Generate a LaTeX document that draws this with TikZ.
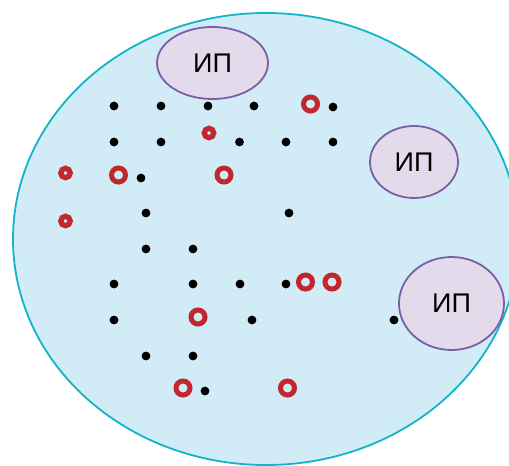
\documentclass[tikz,border=0pt]{standalone}
\usepackage{fontspec}
\setmainfont{Liberation Sans}
\usetikzlibrary{shapes.geometric}
\definecolor{cellfill}{HTML}{D1ECF7}
\definecolor{celldraw}{HTML}{12B4C8}
\definecolor{ipfill}{HTML}{E3DBEC}
\definecolor{ipdraw}{HTML}{7A5FA8}
\definecolor{ringred}{HTML}{C1272D}
\begin{document}
\begin{tikzpicture}[x=1pt,y=-1pt,
  ipnode/.style={ellipse,draw=ipdraw,fill=ipfill,line width=1.8pt,inner sep=0pt,font=\fontsize{27}{30}\selectfont},
  dotnode/.style={circle,fill=black,inner sep=0pt,minimum size=8.8pt},
  bigring/.style={circle,draw=ringred,line width=5pt,inner sep=0pt,minimum size=14pt},
  smallring/.style={circle,draw=ringred,line width=5.3pt,inner sep=0pt,minimum size=9.4pt}]
\useasboundingbox (0,0) rectangle (509,466);
\clip (0,0) rectangle (509,466);
\node[ellipse,draw=celldraw,fill=cellfill,line width=1.8pt,minimum width=506pt,minimum height=452pt,inner sep=0pt] (cell) at (266,239) {};
\node[ipnode,minimum width=111pt,minimum height=72pt] (ip1) at (212.5,63) {ИП};
\node[ipnode,minimum width=88pt,minimum height=72pt] (ip2) at (414,162) {ИП};
\node[ipnode,minimum width=105pt,minimum height=93pt] (ip3) at (451.5,303.5) {ИП};
% row 1
\node[dotnode] (d11) at (114,106) {};
\node[dotnode] (d12) at (161,106) {};
\node[dotnode] (d13) at (208,106) {};
\node[dotnode] (d14) at (254,106) {};
\node[bigring] (r11) at (310.5,104) {};
\node[dotnode] (d15) at (333,107) {};
% row 2
\node[dotnode] (d21) at (114,142) {};
\node[dotnode] (d22) at (161,142) {};
\node[smallring] (s21) at (209,133) {};
\node[dotnode] (d23) at (239.5,142) {};
\node[dotnode] (d24) at (286,142) {};
\node[dotnode] (d25) at (333,142) {};
% row 3
\node[smallring] (s31) at (65.5,173) {};
\node[bigring] (r31) at (118.5,175) {};
\node[dotnode] (d31) at (141,178) {};
\node[bigring] (r32) at (224,175) {};
% row 4
\node[smallring] (s41) at (65.5,221) {};
\node[dotnode] (d41) at (146,213) {};
\node[dotnode] (d42) at (289,213) {};
% row 5
\node[dotnode] (d51) at (146,249) {};
\node[dotnode] (d52) at (193,249) {};
% row 6
\node[dotnode] (d61) at (114,284) {};
\node[dotnode] (d62) at (193,284) {};
\node[dotnode] (d63) at (240,284) {};
\node[dotnode] (d64) at (286,284) {};
\node[bigring] (r61) at (305.5,282) {};
\node[bigring] (r62) at (332,282) {};
% row 7
\node[dotnode] (d71) at (114,320) {};
\node[bigring] (r71) at (198,317) {};
\node[dotnode] (d72) at (252,320) {};
\node[dotnode] (d73) at (394,320) {};
% row 8
\node[dotnode] (d81) at (146,356) {};
\node[dotnode] (d82) at (193,356) {};
% row 9
\node[bigring] (r91) at (183,388) {};
\node[dotnode] (d91) at (205,391) {};
\node[bigring] (r92) at (287.5,388) {};
\end{tikzpicture}
\end{document}
